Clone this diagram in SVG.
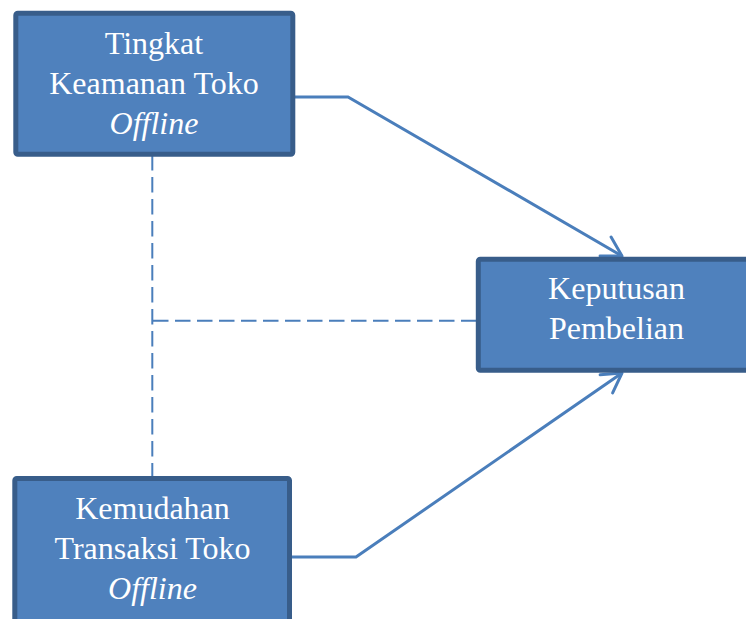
<svg xmlns="http://www.w3.org/2000/svg" width="746" height="619" viewBox="0 0 746 619">
<style>
.box{fill:#4f81bd;stroke:#385d8a;stroke-width:5}
.t{font-family:"Liberation Serif","Times New Roman",serif;font-size:32px;fill:#ffffff;text-anchor:middle}
.i{font-style:italic}
.c{fill:none;stroke:#4a7ebb;stroke-width:3}
.d{fill:none;stroke:#4a7ebb;stroke-width:2;stroke-dasharray:15.5 6.5}
</style>
<defs>
<marker id="arr" markerUnits="userSpaceOnUse" markerWidth="30" markerHeight="30" viewBox="-25 -15 30 30" refX="0" refY="0" orient="auto">
<path d="M-19 -11 L0 0 L-19 11" fill="none" stroke="#4a7ebb" stroke-width="3" stroke-linecap="round" stroke-linejoin="round"/>
</marker>
</defs>
<g id="connectors">
<path class="d" d="M152.3 155 V478"/>
<path class="d" d="M153 320.7 H477"/>
<path class="c" d="M295 97 H348 L622 256" marker-end="url(#arr)"/>
<path class="c" d="M292 557 H356 L622 373" marker-end="url(#arr)"/>
</g>
<g id="node-keamanan">
<rect class="box" x="15.8" y="13.2" width="277" height="141" rx="2"/>
<text class="t" x="154" y="54">Tingkat</text>
<text class="t" x="154" y="94">Keamanan Toko</text>
<text class="t i" x="154" y="134">Offline</text>
</g>
<g id="node-keputusan">
<rect class="box" x="478.3" y="259.2" width="280" height="111" rx="2"/>
<text class="t" x="616.5" y="299">Keputusan</text>
<text class="t" x="616.5" y="339">Pembelian</text>
</g>
<g id="node-kemudahan">
<rect class="box" x="14.8" y="478.5" width="274.7" height="150" rx="2"/>
<text class="t" x="152.5" y="519">Kemudahan</text>
<text class="t" x="152.5" y="559">Transaksi Toko</text>
<text class="t i" x="152.5" y="599">Offline</text>
</g>
</svg>
